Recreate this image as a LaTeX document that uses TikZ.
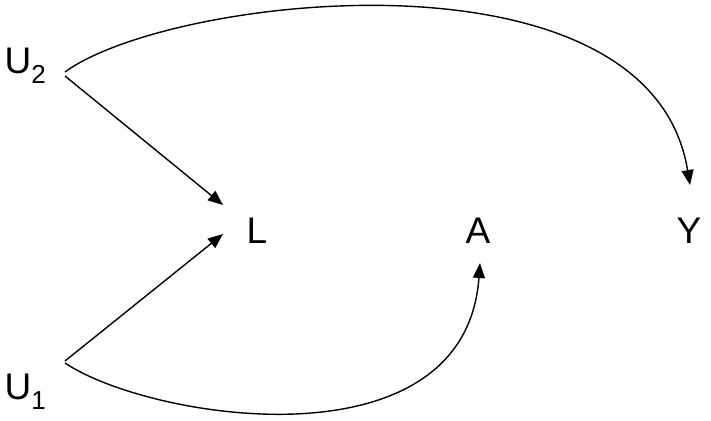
\documentclass[tikz,border=0pt]{standalone}
\usepackage{fontspec}
\setmainfont{Liberation Sans}
\usetikzlibrary{arrows.meta}
\newcommand{\mysub}[1]{\raisebox{-10pt}{\fontsize{26}{26}\selectfont #1}}
\tikzset{
  lbl/.style={inner sep=0pt, font=\fontsize{37}{37}\selectfont},
  edge/.style={line width=1.4pt, -{Triangle[length=15pt,width=12pt]}},
}
\begin{document}
\begin{tikzpicture}[x=1pt,y=-1pt]
\useasboundingbox (0,0) rectangle (711,420);
\node[lbl, anchor=base east] (u2) at (46,73) {U\mysub{2}};
\node[lbl, anchor=base east] (u1) at (46,399) {U\mysub{1}};
\node[lbl, anchor=base] (l) at (257,243) {L};
\node[lbl, anchor=base] (a) at (478,243) {A};
\node[lbl, anchor=base] (y) at (689,243) {Y};
\draw[edge] ([shift={(19,3)}]u2.base east) -- ([shift={(-34,-38)}]l.base);
\draw[edge] ([shift={(19,-38)}]u1.base east) -- ([shift={(-34,-9)}]l.base);
\draw[edge] ([shift={(19,-36)}]u1.base east) .. controls (150,420) and (465,470) .. ([shift={(2,20)}]a.base);
\draw[edge] ([shift={(19,-1)}]u2.base east) .. controls (170,-5) and (650,-60) .. ([shift={(1,-58)}]y.base);
\end{tikzpicture}
\end{document}
